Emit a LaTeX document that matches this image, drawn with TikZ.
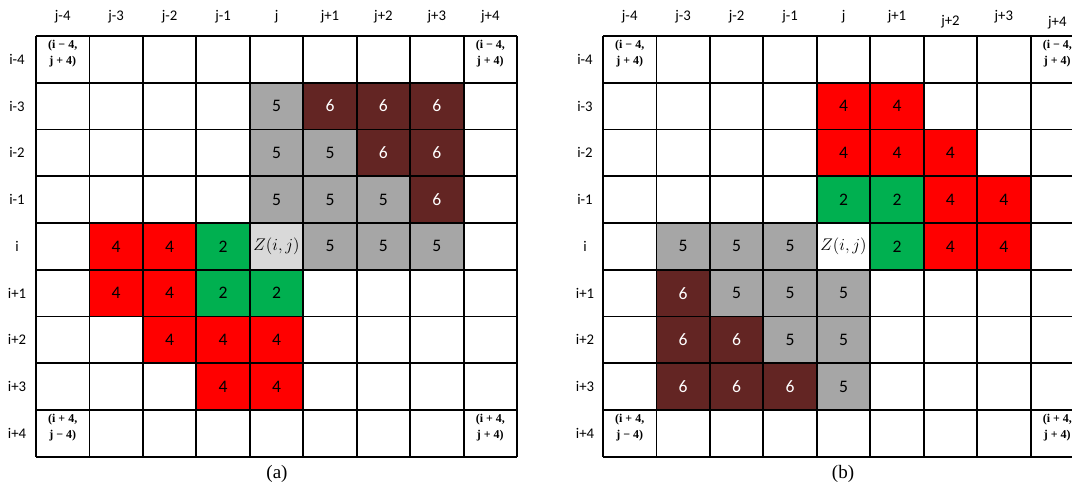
\documentclass[tikz,border=0pt]{standalone}
\usepackage{fontspec}
\setmainfont{Carlito}
\newfontfamily\capfont{Liberation Serif}
\usetikzlibrary{positioning}
\definecolor{cellred}{RGB}{255,0,0}
\definecolor{cellgreen}{RGB}{0,176,80}
\definecolor{cellgray}{RGB}{166,166,166}
\definecolor{celldark}{RGB}{99,37,35}
\definecolor{cellcentre}{RGB}{217,217,217}

\begin{document}
\begin{tikzpicture}[x=0.025cm,y=-0.025cm,
    cell/.style={minimum width=1.336cm,minimum height=1.1675cm,inner sep=0pt,
      font=\fontsize{12.5}{14}\selectfont},
    hdr/.style={inner sep=1pt,font=\fontsize{10.5}{12}\selectfont},
    corner/.style={inner sep=0pt,align=center,font=\capfont\bfseries\fontsize{8.5}{11}\selectfont},
    gridline/.style={line width=1.3pt,black}]
    \useasboundingbox (0,0) rectangle (1072,487);
    \def\cw{53.45}
    \def\ch{46.75}

    % Panel (a)
    \begin{scope}[shift={(36,36)}]
    \foreach \r/\c in {1/4,2/4,2/5,3/4,3/5,3/6,4/5,4/6,4/7}
        \node[cell,fill=cellgray] (a-\r-\c) at ({(\c+0.5)*\cw},{(\r+0.5)*\ch}) {5};
    \foreach \r/\c in {1/5,1/6,1/7,2/6,2/7,3/7}
        \node[cell,fill=celldark,text=white] (a-\r-\c) at ({(\c+0.5)*\cw},{(\r+0.5)*\ch}) {6};
    \foreach \r/\c in {4/1,4/2,5/1,5/2,6/2,6/3,6/4,7/3,7/4}
        \node[cell,fill=cellred] (a-\r-\c) at ({(\c+0.5)*\cw},{(\r+0.5)*\ch}) {4};
    \foreach \r/\c in {4/3,5/3,5/4}
        \node[cell,fill=cellgreen] (a-\r-\c) at ({(\c+0.5)*\cw},{(\r+0.5)*\ch}) {2};
    \node[cell,fill=cellcentre] (a-4-4) at ({4.5*\cw},{4.5*\ch}) {$Z(i,j)$};
    % grid lines
    \foreach \k in {0,...,9} {
        \draw[gridline] ({\k*\cw},0) -- ({\k*\cw},{9*\ch});
        \draw[gridline] (0,{\k*\ch}) -- ({9*\cw},{\k*\ch});
    }
    % corner labels
    \node[corner] (a-c1) at ({0.5*\cw},{0.38*\ch}) {(i − 4,\\ j + 4)};
    \node[corner] (a-c2) at ({8.5*\cw},{0.38*\ch}) {(i − 4,\\ j + 4)};
    \node[corner] (a-c3) at ({0.5*\cw},{8.38*\ch}) {(i + 4,\\ j − 4)};
    \node[corner] (a-c4) at ({8.5*\cw},{8.38*\ch}) {(i + 4,\\ j + 4)};
    % headers
    \foreach \k/\t in {0/-4,1/-3,2/-2,3/-1,4/,5/+1,6/+2,7/+3,8/+4} {
        \node[hdr] (a-col\k) at ({(\k+0.5)*\cw},-19) {j\t};
        \node[hdr] (a-row\k) at (-19,{(\k+0.5)*\ch}) {i\t};
    }
    \end{scope}
    \node[font=\capfont\fontsize{13.5}{15}\selectfont] (cap-a) at (277,474) {(a)};

    % Panel (b)
    \begin{scope}[shift={(603,36)}]
    \foreach \r/\c in {1/4,1/5,2/4,2/5,2/6,3/6,3/7,4/6,4/7}
        \node[cell,fill=cellred] (b-\r-\c) at ({(\c+0.5)*\cw},{(\r+0.5)*\ch}) {4};
    \foreach \r/\c in {3/4,3/5,4/5}
        \node[cell,fill=cellgreen] (b-\r-\c) at ({(\c+0.5)*\cw},{(\r+0.5)*\ch}) {2};
    \foreach \r/\c in {4/1,4/2,4/3,5/2,5/3,5/4,6/3,6/4,7/4}
        \node[cell,fill=cellgray] (b-\r-\c) at ({(\c+0.5)*\cw},{(\r+0.5)*\ch}) {5};
    \foreach \r/\c in {5/1,6/1,6/2,7/1,7/2,7/3}
        \node[cell,fill=celldark,text=white] (b-\r-\c) at ({(\c+0.5)*\cw},{(\r+0.5)*\ch}) {6};
    \node[cell] (b-4-4) at ({4.5*\cw},{4.5*\ch}) {$Z(i,j)$};
    % grid lines
    \foreach \k in {0,...,9} {
        \draw[gridline] ({\k*\cw},0) -- ({\k*\cw},{9*\ch});
        \draw[gridline] (0,{\k*\ch}) -- ({9*\cw},{\k*\ch});
    }
    % corner labels
    \node[corner] (b-c1) at ({0.5*\cw},{0.38*\ch}) {(i − 4,\\ j + 4)};
    \node[corner] (b-c2) at ({8.5*\cw},{0.38*\ch}) {(i − 4,\\ j + 4)};
    \node[corner] (b-c3) at ({0.5*\cw},{8.38*\ch}) {(i + 4,\\ j − 4)};
    \node[corner] (b-c4) at ({8.5*\cw},{8.38*\ch}) {(i + 4,\\ j + 4)};
    % headers
    \foreach \k/\t/\dy in {0/-4/0,1/-3/0,2/-2/0,3/-1/0,4//0,5/+1/0,6/+2/5,7/+3/0,8/+4/6} {
        \node[hdr] (b-col\k) at ({(\k+0.5)*\cw},{-19+\dy}) {j\t};
        \node[hdr] (b-row\k) at (-18,{(\k+0.5)*\ch}) {i\t};
    }
    \end{scope}
    \node[font=\capfont\fontsize{13.5}{15}\selectfont] (cap-b) at (843,474) {(b)};
\end{tikzpicture}
\end{document}
